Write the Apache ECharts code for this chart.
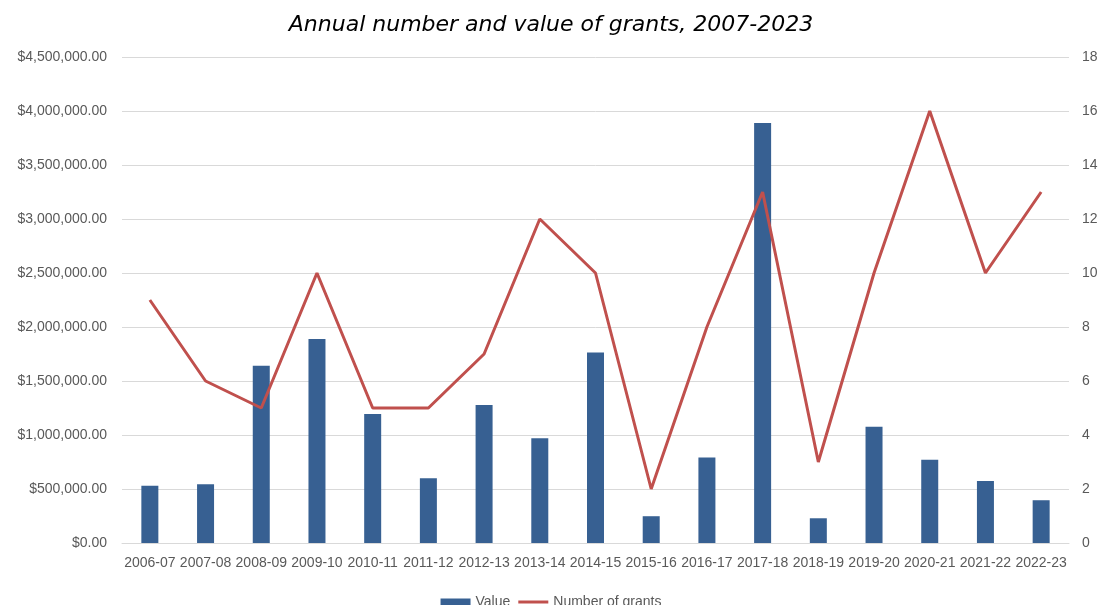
<!DOCTYPE html>
<html>
<head>
<meta charset="utf-8">
<script src="https://cdn.jsdelivr.net/npm/echarts@6/dist/echarts.min.js"></script>
<style>
  html, body { margin: 0; padding: 0; background: #fff; }
  #chart { width: 1102px; height: 605px; }
</style>
</head>
<body>
<div id="chart"></div>
<script>
// data
const years = ['2006-07', '2007-08', '2008-09', '2009-10', '2010-11', '2011-12', '2012-13', '2013-14', '2014-15',
  '2015-16', '2016-17', '2017-18', '2018-19', '2019-20', '2020-21', '2021-22', '2022-23']
const grantValue = [530000, 545000, 1642000, 1890000, 1194000, 600000, 1278000, 971000, 1763000,
  248000, 792000, 3888000, 229000, 1076000, 770000, 575000, 396000]
const grantCount = [9, 6, 5, 10, 5, 5, 7, 12, 10, 2, 8, 13, 3, 10, 16, 10, 13]

const labelFont = '"Liberation Sans", sans-serif'
const grey = '#595959'

const money = v => '$' + v.toLocaleString('en-US', { minimumFractionDigits: 2, maximumFractionDigits: 2 })

const chart = echarts.init(document.getElementById('chart'))
chart.setOption({
  backgroundColor: '#fff',
  animation: false,
  title: {
    text: 'Annual number and value of grants, 2007-2023',
    left: 'center',
    top: 9,
    textStyle: { fontFamily: '"DejaVu Sans", sans-serif', fontStyle: 'italic', fontWeight: 'normal', fontSize: 22, color: '#000' }
  },
  grid: { left: 122, right: 33, top: 57, bottom: 62 },
  legend: {
    bottom: -9,
    left: 'center',
    itemGap: 8,
    itemWidth: 30,
    itemHeight: 7,
    textStyle: { fontFamily: labelFont, fontSize: 14, color: grey },
    data: [
      { name: 'Value', icon: 'rect' },
      { name: 'Number of grants', icon: 'path://M0,0H30V3H0Z', itemStyle: { color: '#c0504d' } }
    ]
  },
  xAxis: {
    type: 'category',
    data: years,
    axisTick: { show: false },
    axisLine: { lineStyle: { color: '#d9d9d9' } },
    axisLabel: { interval: 0, color: grey, fontFamily: labelFont, fontSize: 14, margin: 13 }
  },
  yAxis: [
    {
      type: 'value',
      min: 0, max: 4500000, interval: 500000,
      axisLabel: { color: grey, fontFamily: labelFont, fontSize: 14, margin: 15, formatter: money },
      splitLine: { lineStyle: { color: '#d9d9d9', width: 1 } }
    },
    {
      type: 'value',
      min: 0, max: 18, interval: 2,
      position: 'right',
      axisLabel: { color: grey, fontFamily: labelFont, fontSize: 14, margin: 13 },
      splitLine: { show: false }
    }
  ],
  series: [
    {
      name: 'Value',
      type: 'bar',
      data: grantValue,
      barWidth: 17,
      itemStyle: { color: '#376092' }
    },
    {
      name: 'Number of grants',
      type: 'line',
      yAxisIndex: 1,
      data: grantCount,
      symbol: 'none',
      lineStyle: { color: '#c0504d', width: 3 },
      itemStyle: { color: '#c0504d' }
    }
  ]
})
</script>
</body>
</html>
